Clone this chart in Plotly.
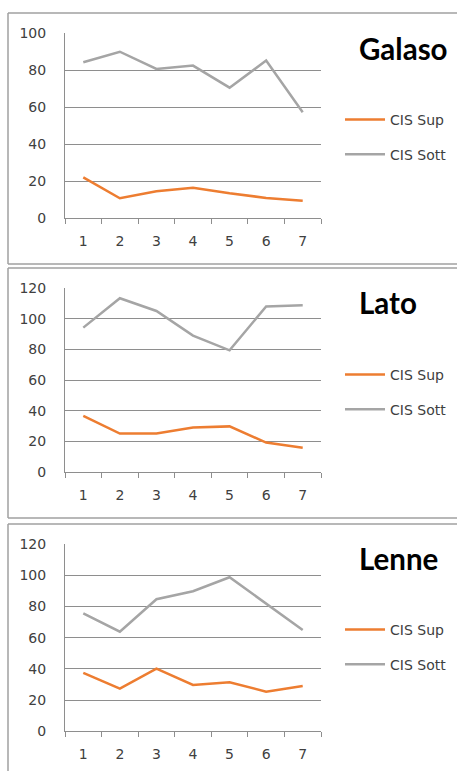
import plotly.graph_objects as go

W, H = 457, 771

categories = ["1", "2", "3", "4", "5", "6", "7"]
panel_titles = ["Galaso", "Lato", "Lenne"]
series_names = ["CIS Sup", "CIS Sott"]

galaso_sup = [22.1, 10.8, 14.6, 16.5, 13.5, 11.0, 9.5]
galaso_sott = [84.2, 89.9, 80.6, 82.4, 70.5, 85.1, 57.2]
lato_sup = [36.6, 25.1, 25.1, 29.0, 29.8, 19.2, 15.9]
lato_sott = [94.3, 113.5, 105.2, 89.1, 79.5, 108.1, 108.9]
lenne_sup = [37.4, 27.3, 40.1, 29.7, 31.4, 25.4, 29.0]
lenne_sott = [75.6, 63.8, 84.6, 89.7, 98.7, 82.0, 64.9]

y_max = [100, 120, 120]
y_dtick = 20

colors = ["#ED7D31", "#A5A5A5"]
grid_col = "#8E8E8E"
font_fam = "DejaVu Sans"
title_fam = "Lato"

data = [(galaso_sup, galaso_sott), (lato_sup, lato_sott), (lenne_sup, lenne_sott)]

# pixel layout (top, bottom) of each plot area, and frame (top, bottom)
plot_px = [(33, 218.3), (288.3, 472), (544, 731.3)]
frame_px = [(13, 264), (268, 518), (524, 800)]
title_px = [48, 303, 558]
legend_px = [104, 359, 614]
px_x0, px_x1 = 65, 321

def py(v):
    return 1 - v / H

fig = go.Figure()
layout = dict(template="none", width=W, height=H, margin=dict(l=0, r=0, t=0, b=0),
              paper_bgcolor="white", plot_bgcolor="white",
              font=dict(family=font_fam, size=14, color="#404040"),
              shapes=[], annotations=[])

frame_line = dict(color="#A0A0A0", width=1.5)

for i in range(3):
    n = "" if i == 0 else str(i + 1)
    xa, ya = "x" + n, "y" + n
    lg = "legend" + n
    sup, sott = data[i]
    for vals, name, col in zip((sup, sott), series_names, colors):
        fig.add_trace(go.Scatter(x=categories, y=vals, mode="lines", name=name,
                                 line=dict(color=col, width=2.5),
                                 xaxis=xa, yaxis=ya, legend=lg,
                                 legendgroup=name + n, showlegend=True))
    t, b = plot_px[i]
    layout["xaxis" + n] = dict(domain=[px_x0 / W, px_x1 / W], anchor=ya,
                               type="category", tickson="boundaries",
                               range=[-0.5, 6.5], automargin=False,
                               ticks="outside", ticklen=5, tickcolor=grid_col,
                               showline=True, linecolor=grid_col, linewidth=1,
                               showgrid=False, zeroline=False,
                               tickfont=dict(size=14, color="#404040"),
                               ticklabelstandoff=10, fixedrange=True)
    layout["yaxis" + n] = dict(domain=[py(b), py(t)], anchor=xa,
                               range=[0, y_max[i]], dtick=y_dtick, automargin=False,
                               showgrid=True, gridcolor=grid_col, gridwidth=1,
                               showline=True, linecolor=grid_col, linewidth=1,
                               zeroline=False, ticks="",
                               tickfont=dict(size=14, color="#404040"),
                               ticklabelstandoff=15, fixedrange=True)
    layout[lg] = dict(x=340 / W, xanchor="left", y=py(legend_px[i]), yanchor="top",
                      bgcolor="rgba(0,0,0,0)", tracegroupgap=13.5,
                      font=dict(size=14, color="#404040"), itemwidth=40)
    ft, fb = frame_px[i]
    x_left = 8 / W
    for (x0, y0, x1, y1) in [(x_left, py(ft), 1.0, py(ft)),
                             (x_left, py(fb), 1.0, py(fb)),
                             (x_left, py(ft), x_left, py(fb))]:
        layout["shapes"].append(dict(type="line", xref="paper", yref="paper",
                                     x0=x0, y0=y0, x1=x1, y1=y1,
                                     line=frame_line, layer="below"))
    layout["annotations"].append(dict(text="<b>" + panel_titles[i] + "</b>",
                                      xref="paper", yref="paper",
                                      x=357 / W, xanchor="left",
                                      y=py(title_px[i]), yanchor="middle",
                                      showarrow=False,
                                      font=dict(size=29.5, color="black", family=title_fam)))

fig.update_layout(**layout)
fig.write_html("out.html", config={"displayModeBar": False},
               post_script="document.body.style.margin='0';document.body.style.overflow='hidden';")
